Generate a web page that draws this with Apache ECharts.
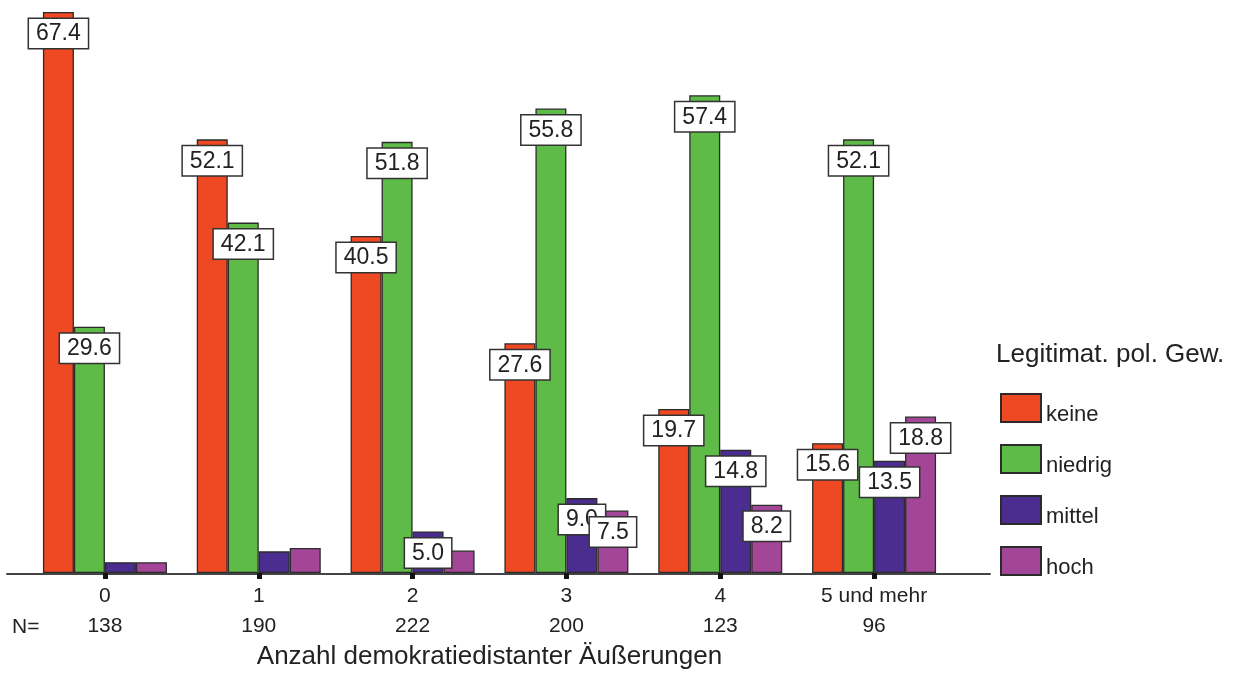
<!DOCTYPE html>
<html>
<head>
<meta charset="utf-8">
<script src="https://cdn.jsdelivr.net/npm/echarts@6/dist/echarts.min.js"></script>
<style>
html,body{margin:0;padding:0;background:#fff;}
#c{width:1235px;height:675px;}
</style>
</head>
<body>
<div id="c"></div>
<script>
const categories = ['0', '1', '2', '3', '4', '5 und mehr'];
const nValues = ['138', '190', '222', '200', '123', '96'];
const seriesNames = ['keine', 'niedrig', 'mittel', 'hoch'];
const keine = [67.4, 52.1, 40.5, 27.6, 19.7, 15.6];
const niedrig = [29.6, 42.1, 51.8, 55.8, 57.4, 52.1];
const mittel = [1.3, 2.6, 5.0, 9.0, 14.8, 13.5];
const hoch = [1.3, 3.0, 2.7, 7.5, 8.2, 18.8];
const xAxisTitle = 'Anzahl demokratiedistanter Äußerungen';
const legendTitle = 'Legitimat. pol. Gew.';
const nLabel = 'N=';

const colors = ['#EF4923', '#5EBB47', '#4B2D8F', '#A34698'];
const FONT = 'Liberation Sans, Arial, sans-serif';
const LABEL_MIN = 5;

function makeSeries(name, values, i) {
  return {
    name: name,
    type: 'bar',
    xAxisIndex: 0,
    yAxisIndex: 0,
    barWidth: 31,
    barGap: '0%',
    itemStyle: { color: colors[i], borderColor: '#2b2b2b', borderWidth: 1.3 },
    label: {
      show: true,
      position: 'insideTop',
      distance: 7,
      formatter: p => p.value.toFixed(1),
      fontFamily: FONT,
      fontSize: 23,
      lineHeight: 24,
      color: '#222',
      backgroundColor: '#fff',
      borderColor: '#333',
      borderWidth: 1.5,
      padding: [3, 7, 2, 7]
    },
    data: values.map(v => ({ value: v, label: { show: v >= LABEL_MIN } }))
  };
}

const chart = echarts.init(document.getElementById('c'), null, { renderer: 'canvas' });
chart.setOption({
  backgroundColor: '#fff',
  animation: false,
  title: {
    text: legendTitle,
    left: 996,
    top: 342,
    textStyle: { fontFamily: FONT, fontSize: 26, fontWeight: 'normal', color: '#222' },
    padding: 0
  },
  legend: {
    orient: 'vertical',
    left: 1000,
    top: 390,
    padding: 0,
    itemWidth: 40,
    itemHeight: 28,
    itemGap: 15,
    icon: 'rect',
    formatter: name => '{t|' + name + '}',
    textStyle: {
      fontFamily: FONT, fontSize: 22, color: '#222',
      rich: { t: { fontFamily: FONT, fontSize: 22, color: '#222', lineHeight: 22, padding: [14, 0, 0, 0] } }
    },
    data: seriesNames
  },
  graphic: [{
    type: 'text',
    left: 12,
    top: 617,
    style: { text: nLabel, font: '21px ' + FONT, fill: '#222' }
  }],
  grid: [
    { left: 28, right: 284, top: 12, bottom: 101 },
    { left: 7, right: 245, top: 12, bottom: 101 }
  ],
  xAxis: [{
    type: 'category',
    gridIndex: 0,
    data: categories,
    axisLine: { show: false },
    axisTick: { show: true, alignWithLabel: true, length: 6, lineStyle: { color: '#111', width: 5 } },
    axisLabel: {
      margin: 8,
      formatter: (v, i) => '{c|' + v + '}\n{n|' + nValues[i] + '}',
      rich: {
        c: { fontFamily: FONT, fontSize: 21, lineHeight: 30, color: '#222' },
        n: { fontFamily: FONT, fontSize: 21, lineHeight: 30, color: '#222' }
      }
    },
    name: xAxisTitle,
    nameLocation: 'middle',
    nameGap: 71,
    nameTextStyle: { fontFamily: FONT, fontSize: 26, color: '#222', verticalAlign: 'top' }
  }, {
    type: 'value',
    gridIndex: 1,
    axisLine: { show: true, onZero: false, lineStyle: { color: '#444', width: 2 } },
    axisTick: { show: false },
    axisLabel: { show: false },
    splitLine: { show: false }
  }],
  yAxis: [{
    type: 'value',
    gridIndex: 0,
    min: 0,
    max: v => v.max,
    show: false
  }, {
    type: 'value',
    gridIndex: 1,
    show: false
  }],
  series: [
    makeSeries(seriesNames[0], keine, 0),
    makeSeries(seriesNames[1], niedrig, 1),
    makeSeries(seriesNames[2], mittel, 2),
    makeSeries(seriesNames[3], hoch, 3)
  ]
});
</script>
</body>
</html>
